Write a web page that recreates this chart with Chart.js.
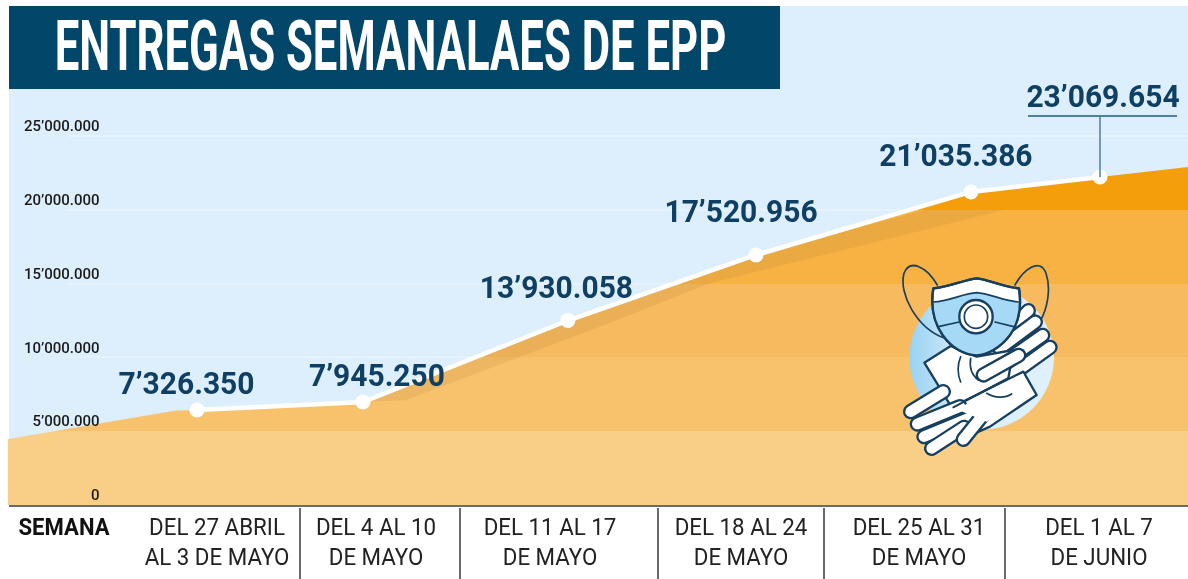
<!DOCTYPE html>
<html>
<head>
<meta charset="utf-8">
<title>Entregas semanales de EPP</title>
<script src="https://cdn.jsdelivr.net/npm/chart.js@4/dist/chart.umd.min.js"></script>
<style>
  html, body { margin: 0; background: #fff; }
  #wrap { position: relative; width: 1188px; height: 579px; overflow: hidden; }
  #wrap canvas, #wrap svg { position: absolute; left: 0; top: 0; }
</style>
</head>
<body>
<div id="wrap">
  <canvas id="entregas" width="1188" height="579"></canvas>
  <!-- icono mascarilla y guantes -->
  <svg width="1188" height="579" viewBox="0 0 1188 579">
    <defs>
      <linearGradient id="disco" x1="0" x2="1" y1="0" y2="0">
        <stop offset="0" stop-color="#98D2F2"/>
        <stop offset="0.4" stop-color="#DCEEFB"/>
        <stop offset="1" stop-color="#DFF0FC"/>
      </linearGradient>
    </defs>
    <g transform="translate(880 250) scale(0.3333)" fill="none" stroke="#173F5F" stroke-width="7" stroke-linecap="round" stroke-linejoin="round">
      <circle cx="305" cy="322" r="217" fill="url(#disco)" stroke="none"/>
      <path d="M172 105 C140 50 90 25 72 70 C55 130 110 235 195 265" stroke-width="5"/>
      <path d="M405 105 C430 60 480 20 498 70 C515 120 500 180 480 215" stroke-width="5"/>
      <!-- guante de arriba -->
      <g>
        <path d="M445 182 L370 262" stroke-width="46"/><path d="M445 182 L370 262" stroke="#fff" stroke-width="32"/>
        <path d="M466 216 L360 295" stroke-width="46"/><path d="M466 216 L360 295" stroke="#fff" stroke-width="32"/>
        <path d="M488 256 L375 335" stroke-width="46"/><path d="M488 256 L375 335" stroke="#fff" stroke-width="32"/>
        <path d="M510 292 L385 382" stroke-width="46"/><path d="M510 292 L385 382" stroke="#fff" stroke-width="32"/>
      </g>
      <path d="M133 338 L212 288 L290 320 L400 300 L385 385 L240 462 L215 472 Z" fill="#fff"/>
      <path d="M416 316 L310 375" stroke-width="46"/><path d="M416 316 L310 375" stroke="#fff" stroke-width="32"/>
      <path d="M242 320 C232 345 232 372 242 396 M272 325 C268 350 275 375 295 390" stroke-width="5"/>
      <!-- guante de abajo -->
      <path d="M430 365 L470 435 L330 530 L240 570 L215 472 Z" fill="#fff"/>
      <path d="M92 485 L190 425" stroke-width="46"/><path d="M92 485 L190 425" stroke="#fff" stroke-width="32"/>
      <path d="M112 522 L240 470" stroke-width="46"/><path d="M112 522 L240 470" stroke="#fff" stroke-width="32"/>
      <path d="M132 560 L265 505" stroke-width="46"/><path d="M132 560 L265 505" stroke="#fff" stroke-width="32"/>
      <path d="M155 595 L252 532" stroke-width="46"/><path d="M155 595 L252 532" stroke="#fff" stroke-width="32"/>
      <path d="M250 568 L325 475" stroke-width="46"/><path d="M250 568 L325 475" stroke="#fff" stroke-width="32"/>
      <path d="M230 478 L430 372 L455 425 L320 515" fill="#fff" stroke="none"/>
      <path d="M220 472 L385 385" stroke-width="6"/>
      <path d="M320 430 C345 445 375 445 395 432" stroke-width="5"/>
      <!-- mascarilla -->
      <path d="M160 115 C205 112 250 90 290 85 C330 90 375 112 417 115 C425 165 418 215 390 255 C360 295 320 315 290 316 C255 315 215 295 188 255 C160 215 152 165 160 115 Z" fill="#fff"/>
      <path d="M161 156 C205 155 250 130 290 128 C330 130 375 155 418 156 C420 200 410 232 390 255 C360 295 320 315 290 316 C255 315 215 295 188 255 C168 232 160 200 161 156 Z" fill="#A6D9F6" stroke="none"/>
      <path d="M160 115 C205 112 250 90 290 85 C330 90 375 112 417 115 C425 165 418 215 390 255 C360 295 320 315 290 316 C255 315 215 295 188 255 C160 215 152 165 160 115 Z"/>
      <path d="M161 156 C205 155 250 130 290 128 C330 130 375 155 418 156" stroke-width="5"/>
      <path d="M175 230 L238 216 M345 216 L410 232" stroke-width="5"/>
      <circle cx="288" cy="200" r="50" fill="#fff"/>
      <circle cx="288" cy="200" r="35" fill="#fff" stroke-width="5"/>
    </g>
  </svg>
</div>
<script>
// ejes y semanas
const semanas = [
  ["DEL 27 ABRIL", "AL 3 DE MAYO"],
  ["DEL 4 AL 10", "DE MAYO"],
  ["DEL 11 AL 17", "DE MAYO"],
  ["DEL 18 AL 24", "DE MAYO"],
  ["DEL 25 AL 31", "DE MAYO"],
  ["DEL 1 AL 7", "DE JUNIO"]
];
const etiquetasValor = ["7’326.350", "7’945.250", "13’930.058", "17’520.956", "21’035.386", "23’069.654"];
const yTicks = [0, 5000000, 10000000, 15000000, 20000000, 25000000];
const yTickLabels = ["0", "5’000.000", "10’000.000", "15’000.000", "20’000.000", "25’000.000"];

// los puntos del dibujo no caen donde dice su etiqueta, asi que se leen de la grafica
const semanaX = [1.05, 1.972, 3.111, 4.156, 5.35, 6.067];
const semanaY = [6440000, 6980000, 12500000, 16940000, 21210000, 22220000];

// silueta naranja
const areaX = [0, 0.933, 1.05, 1.972, 3.111, 4.156, 5.35, 6.067, 6.556];
const areaY = [4470000, 6400000, 6440000, 6980000, 12500000, 16940000, 21210000, 22220000, 22900000];

// franja de sombra bajo la linea
const sombraArribaX = [1.972, 3.111, 4.156, 5.1, 5.539];
const sombraArribaY = [6980000, 12500000, 16940000, 20000000, 20000000];
const sombraAbajoX = [1.972, 2.206, 3.289, 3.895, 5.539];
const sombraAbajoY = [6980000, 7100000, 12080000, 15000000, 20000000];

const divisoresX = [1.62, 2.509, 3.614, 4.533, 5.539];
const yMax = 31980000;
const bandasTope = [5000000, 10000000, 15000000, 20000000, yMax];
const bandasColor = ["#F9CF87", "#F8C26D", "#F7BA5F", "#F7B243", "#F59E0C"];

// colocacion de textos
const semanaCentro = [217, 376, 550, 741, 919, 1099];
const valorOffset = [[-10.5, -16], [14, -16], [-11.5, -23], [-15, -33], [-15, -26], [3, -70]];

function texto(ctx, str, cx, base, font, color, sx) {
  ctx.save();
  ctx.font = font;
  ctx.fillStyle = color;
  ctx.textAlign = "center";
  ctx.textBaseline = "alphabetic";
  ctx.translate(cx, base);
  ctx.scale(sx, 1);
  ctx.fillText(str, 0, 0);
  ctx.restore();
}

function bandas(c) {
  const { chart } = c;
  if (!chart.chartArea) return bandasColor[0];
  const y = chart.scales.y;
  const y0 = y.getPixelForValue(0);
  const y1 = y.getPixelForValue(yMax);
  const g = chart.ctx.createLinearGradient(0, y0, 0, y1);
  let desde = 0;
  bandasTope.forEach((tope, i) => {
    const hasta = tope / yMax;
    g.addColorStop(desde, bandasColor[i]);
    g.addColorStop(hasta, bandasColor[i]);
    desde = hasta;
  });
  return g;
}

const fondo = {
  id: "fondo",
  beforeDraw(chart) {
    const { ctx, chartArea: a, scales: { y } } = chart;
    ctx.save();
    ctx.fillStyle = "#DDEFFC";
    ctx.fillRect(a.left + 1, 6, a.right - a.left, a.bottom - 6);
    ctx.strokeStyle = "#E9F4FD";
    ctx.lineWidth = 1.5;
    yTicks.slice(1).forEach(v => {
      const py = Math.round(y.getPixelForValue(v));
      ctx.beginPath();
      ctx.moveTo(68, py);
      ctx.lineTo(a.right, py);
      ctx.stroke();
    });
    ctx.restore();
  }
};

const anotaciones = {
  id: "anotaciones",
  afterDraw(chart) {
    const { ctx, chartArea: a, scales: { x } } = chart;
    const puntos = chart.getDatasetMeta(3).data;

    ctx.save();
    // barra del titulo
    ctx.fillStyle = "#02466A";
    ctx.fillRect(9, 6, 771, 83);
    texto(ctx, "ENTREGAS SEMANALAES DE EPP", 390.5, 70, "700 70px Roboto", "#fff", 0.624);

    // base y divisores
    ctx.fillStyle = "#6A6A6A";
    ctx.fillRect(a.left + 1, a.bottom, a.right - a.left, 2);
    divisoresX.forEach(v => {
      ctx.fillRect(Math.round(x.getPixelForValue(v)) - 1, a.bottom + 3, 2, 579 - a.bottom);
    });

    // guia del ultimo valor
    const ult = puntos[puntos.length - 1];
    ctx.fillStyle = "#4E7F9B";
    ctx.fillRect(1028, 115, 149, 2);
    ctx.fillRect(ult.x - 0.75, 116, 1.5, ult.y - 116);

    // valores
    etiquetasValor.forEach((t, i) => {
      const p = puntos[i];
      texto(ctx, t, p.x + valorOffset[i][0], p.y + valorOffset[i][1], "700 32px Roboto", "#0F3F63", 0.937);
    });

    // semanas
    texto(ctx, "SEMANA", 64, 535, "700 23px Roboto", "#111", 0.96);
    semanas.forEach((lineas, i) => {
      lineas.forEach((l, j) => {
        texto(ctx, l, semanaCentro[i], 535 + j * 30, "400 24px Roboto", "#222", 0.93);
      });
    });
    ctx.restore();
  }
};

const par = (xs, ys) => xs.map((v, i) => ({ x: v, y: ys[i] }));

new Chart(document.getElementById("entregas"), {
  type: "line",
  data: {
    datasets: [
      {
        label: "Area",
        data: par(areaX, areaY),
        order: 3,
        borderWidth: 0,
        pointRadius: 0,
        fill: "origin",
        backgroundColor: bandas
      },
      {
        label: "Sombra arriba",
        data: par(sombraArribaX, sombraArribaY),
        order: 2,
        borderWidth: 0,
        pointRadius: 0,
        fill: false
      },
      {
        label: "Sombra abajo",
        data: par(sombraAbajoX, sombraAbajoY),
        order: 1,
        borderWidth: 0,
        pointRadius: 0,
        fill: 1,
        backgroundColor: "rgba(196, 140, 60, 0.22)"
      },
      {
        label: "Entregas semanales",
        data: par(semanaX, semanaY),
        order: 0,
        borderColor: "#fff",
        borderWidth: 4.5,
        pointRadius: 7.5,
        pointBackgroundColor: "#fff",
        pointBorderWidth: 0,
        fill: false
      }
    ]
  },
  options: {
    responsive: false,
    animation: false,
    layout: { autoPadding: false, padding: { left: 8, right: 0, top: 6, bottom: 74 } },
    plugins: { legend: { display: false }, tooltip: { enabled: false } },
    scales: {
      x: { type: "linear", display: false, min: 0, max: 6.556 },
      y: {
        min: 0,
        max: yMax,
        afterFit: a => { a.width = 0; },
        afterBuildTicks: a => { a.ticks = yTicks.map(v => ({ value: v })); },
        grid: { display: false, drawTicks: false },
        border: { display: false },
        ticks: {
          z: 1,
          mirror: true,
          crossAlign: "far",
          padding: 16,
          color: "#1A1A1A",
          font: { family: "Roboto", size: 15, weight: "500", lineHeight: "17px" },
          // segunda linea vacia para subir el texto sobre su linea de guia
          callback: v => [yTickLabels[yTicks.indexOf(v)], ""]
        }
      }
    }
  },
  plugins: [fondo, anotaciones]
});
</script>
</body>
</html>
